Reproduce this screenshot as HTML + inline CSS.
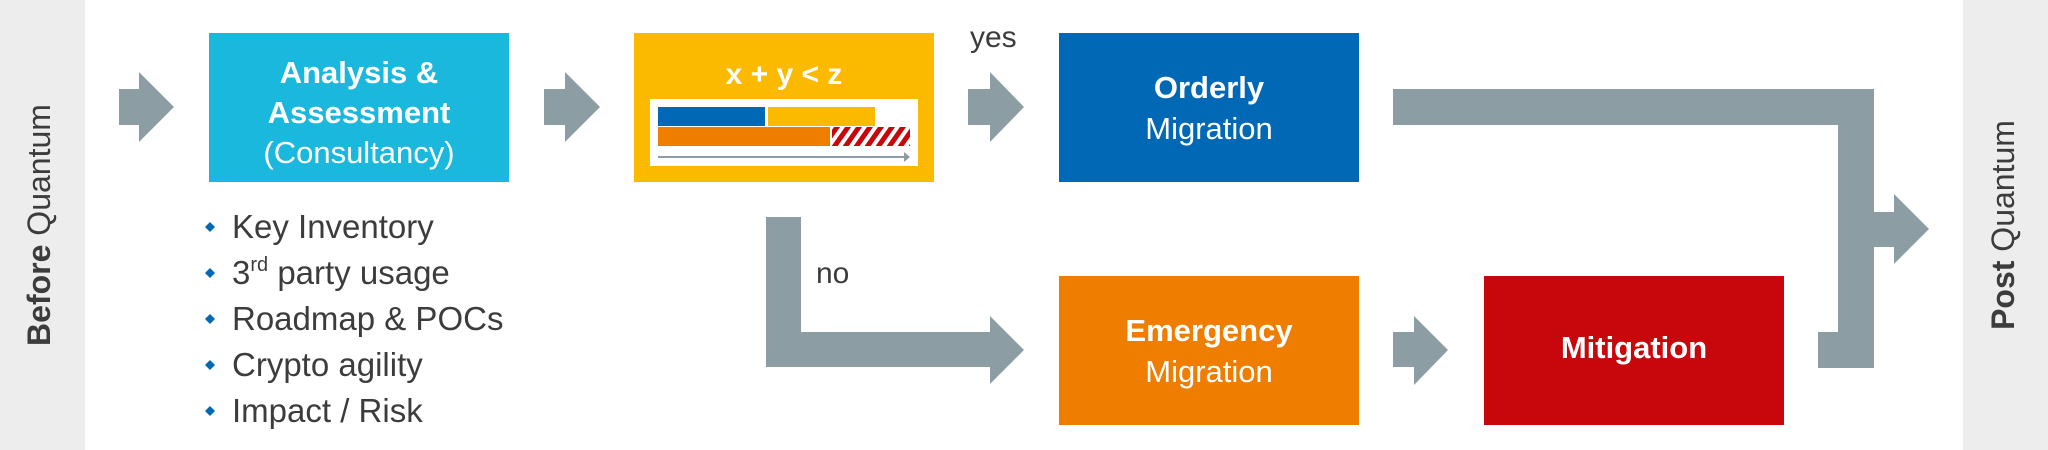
<!DOCTYPE html>
<html><head><meta charset="utf-8"><style>
html,body{margin:0;padding:0;background:#fff;}
svg{display:block;}
text{font-family:"Liberation Sans",sans-serif;}
</style></head><body>
<svg width="2048" height="450" viewBox="0 0 2048 450" xmlns="http://www.w3.org/2000/svg">
<defs>
<pattern id="h" width="9" height="9" patternUnits="userSpaceOnUse" patternTransform="rotate(35)">
<rect width="9" height="9" fill="#fff"/><rect width="5" height="9" fill="#c8070c"/>
</pattern>
</defs>
<rect x="0" y="0" width="85" height="450" fill="#ededee"/>
<rect x="1963" y="0" width="85" height="450" fill="#ededee"/>
<text transform="translate(50,225) rotate(-90)" text-anchor="middle" font-size="32" fill="#3c3c3c"><tspan font-weight="bold">Before</tspan> Quantum</text>
<text transform="translate(2014,225) rotate(-90)" text-anchor="middle" font-size="32" fill="#3c3c3c"><tspan font-weight="bold">Post</tspan> Quantum</text>

<g fill="#8c9ea4">
<polygon points="119,89 139,89 139,72 174,107 139,142 139,125 119,125"/>
<polygon points="544,89 565,89 565,72 600,107 565,142 565,125 544,125"/>
<polygon points="968,89 990,89 990,72 1024,107 990,142 990,125 968,125"/>
<polygon points="766,217 801,217 801,332 990,332 990,316 1024,350 990,384 990,367 766,367"/>
<polygon points="1393,332 1414,332 1414,316 1448,350 1414,385 1414,367 1393,367"/>
<polygon points="1393,89 1874,89 1874,368 1818,368 1818,332 1838,332 1838,125 1393,125"/>
<polygon points="1874,212 1894,212 1894,194 1929,229 1894,264 1894,247 1874,247"/>
</g>

<rect x="209" y="33" width="300" height="149" fill="#1bb8dd"/>
<text x="359" y="83" text-anchor="middle" font-size="31" font-weight="bold" fill="#fff">Analysis &amp;</text>
<text x="359" y="123" text-anchor="middle" font-size="31" font-weight="bold" fill="#fff">Assessment</text>
<text x="359" y="163" text-anchor="middle" font-size="31" fill="#fff">(Consultancy)</text>

<rect x="634" y="33" width="300" height="149" fill="#fbb900"/>
<text x="784" y="84" text-anchor="middle" font-size="30" font-weight="bold" fill="#fff">x + y &lt; z</text>
<rect x="650" y="99" width="268" height="67" fill="#fff"/>
<rect x="658" y="107" width="107" height="19" fill="#0068b4"/>
<rect x="768" y="107" width="107" height="19" fill="#fbb900"/>
<rect x="658" y="127" width="172" height="19" fill="#ef7d00"/>
<rect x="832" y="127" width="78" height="19" fill="url(#h)"/>
<line x1="658" y1="157" x2="906" y2="157" stroke="#8c9ea4" stroke-width="2"/>
<polygon points="904,152 910,157 904,162" fill="#8c9ea4"/>

<text x="970" y="47" font-size="30" fill="#3c3c3c">yes</text>
<text x="816" y="283" font-size="30" fill="#3c3c3c">no</text>

<rect x="1059" y="33" width="300" height="149" fill="#0068b4"/>
<text x="1209" y="98" text-anchor="middle" font-size="31" font-weight="bold" fill="#fff">Orderly</text>
<text x="1209" y="139" text-anchor="middle" font-size="31" fill="#fff">Migration</text>

<rect x="1059" y="276" width="300" height="149" fill="#ef7d00"/>
<text x="1209" y="341" text-anchor="middle" font-size="31" font-weight="bold" fill="#fff">Emergency</text>
<text x="1209" y="382" text-anchor="middle" font-size="31" fill="#fff">Migration</text>

<rect x="1484" y="276" width="300" height="149" fill="#c8070c"/>
<text x="1634" y="358" text-anchor="middle" font-size="31" font-weight="bold" fill="#fff">Mitigation</text>

<g fill="#0068b4">
<polygon points="210,222 215,227 210,232 205,227"/>
<polygon points="210,268 215,273 210,278 205,273"/>
<polygon points="210,314 215,319 210,324 205,319"/>
<polygon points="210,360 215,365 210,370 205,365"/>
<polygon points="210,406 215,411 210,416 205,411"/>
</g>
<g font-size="33" fill="#3c3c3c">
<text x="232" y="238">Key Inventory</text>
<text x="232" y="284">3<tspan font-size="20" dy="-13">rd</tspan><tspan dy="13"> party usage</tspan></text>
<text x="232" y="330">Roadmap &amp; POCs</text>
<text x="232" y="376">Crypto agility</text>
<text x="232" y="422">Impact / Risk</text>
</g>
</svg>
</body></html>
